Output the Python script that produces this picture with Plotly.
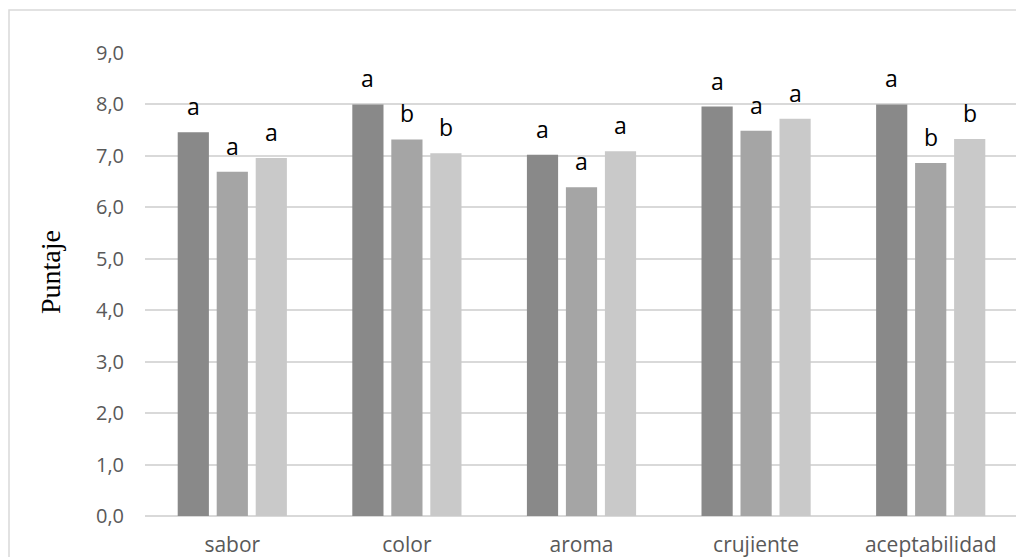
import plotly.graph_objects as go

categories = ["sabor", "color", "aroma", "crujiente", "aceptabilidad"]
serie1 = [7.46, 8.00, 7.02, 7.96, 8.00]
serie2 = [6.69, 7.32, 6.39, 7.49, 6.86]
serie3 = [6.96, 7.05, 7.09, 7.72, 7.33]
letras1 = ["a", "a", "a", "a", "a"]
letras2 = ["a", "b", "a", "a", "b"]
letras3 = ["a", "b", "a", "a", "b"]
tick_vals = [0, 1, 2, 3, 4, 5, 6, 7, 8, 9]
tick_text = ["0,0", "1,0", "2,0", "3,0", "4,0", "5,0", "6,0", "7,0", "8,0", "9,0"]

colors = ["#898989", "#a5a5a5", "#c9c9c9"]
series = [serie1, serie2, serie3]
letras = [letras1, letras2, letras3]

# page body has an 8px margin: compensate so the plot lands where the reference has it
OFF = 8
W, H = 1024 - OFF, 557 - OFF
L, R, T, B = 145 - OFF, 6 - OFF + OFF, 53 - OFF, 41 - OFF
R = W - (1018 - OFF)
B = H - (516 - OFF)
pw = W - L - R
ph = H - T - B

fig = go.Figure()
for s, c in zip(series, colors):
    fig.add_trace(go.Bar(x=categories, y=s, marker=dict(color=c, line=dict(width=0)),
                         showlegend=False, hoverinfo="skip"))

slot_px = 39
for i, (s, l) in enumerate(zip(series, letras)):
    for cat, v, t in zip(categories, s, l):
        fig.add_annotation(x=cat, y=v, text=t, showarrow=False,
                           xshift=(i - 1) * slot_px, yshift=26, yanchor="middle",
                           font=dict(family="Open Sans", size=23, color="#000000"))

# y-axis title
fig.add_annotation(x=(50 - 145) / pw, y=(516 - 272) / ph, xref="paper", yref="paper",
                   text="Puntaje", showarrow=False, textangle=-90,
                   xanchor="center", yanchor="middle",
                   font=dict(family="Liberation Serif", size=28, color="#000000"))

# outer chart border
fig.add_shape(type="rect", xref="paper", yref="paper",
              x0=(9 - 145) / pw, x1=(1040 - 145) / pw,
              y0=(516 - 600) / ph, y1=(516 - 10) / ph,
              line=dict(color="#d9d9d9", width=1.5), fillcolor="rgba(0,0,0,0)", layer="below")

fig.update_layout(
    width=W, height=H,
    margin=dict(l=L, r=R, t=T, b=B, autoexpand=False),
    paper_bgcolor="white", plot_bgcolor="white",
    barmode="group", bargap=0.33, bargroupgap=0.2,
    font=dict(family="Open Sans", size=20, color="#595959"),
)
fig.update_yaxes(range=[0, 9], tickvals=tick_vals, ticktext=tick_text,
                 showgrid=True, gridcolor="#d9d9d9", gridwidth=1.5,
                 zeroline=True, zerolinecolor="#d9d9d9", zerolinewidth=1.5,
                 showline=False, ticklabelstandoff=20, automargin=False,
                 tickfont=dict(family="Open Sans", size=20, color="#595959"))
fig.update_xaxes(showgrid=False, showline=False, ticklabelstandoff=14, automargin=False,
                 tickfont=dict(family="Open Sans", size=21, color="#595959"))

fig.write_html("out.html")
